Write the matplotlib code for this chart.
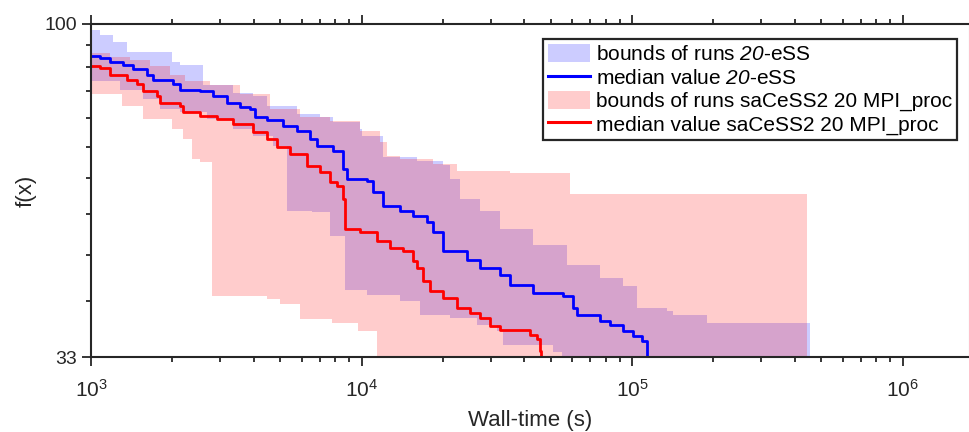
import numpy as np
import matplotlib
matplotlib.use("Agg")
import matplotlib.pyplot as plt
from matplotlib.ticker import FixedLocator, FixedFormatter, NullFormatter

plt.rcParams['font.family'] = ['Liberation Sans', 'DejaVu Sans']
plt.rcParams['mathtext.fontset'] = 'custom'
plt.rcParams['mathtext.rm'] = 'Liberation Sans'
plt.rcParams['mathtext.it'] = 'Liberation Sans:italic'
# slanted digits in the legend labels are set through the sans-serif math font
plt.rcParams['mathtext.sf'] = 'Liberation Sans:italic'

# value used for runs that went below the plotted range
F_FLOOR = 30.0

# ---- 20-eSS: bounds of runs (worst / best) and median, step functions (t [s], f) ----
ESS_UP_T = [1000, 1080, 1206, 1359, 1993, 2133, 2594, 3350, 3971, 4474, 5775, 7026, 7846,
            9874, 10043, 12008, 16040, 20010, 21245, 23128, 27420, 32510, 43050, 57500,
            76150, 92630, 104350, 134700, 141800, 189400]
ESS_UP_F = [98.0, 96.4, 94.2, 91.2, 88.2, 87.3, 81.5, 79.6, 78.6, 76.0, 74.0, 73.3, 72.1,
            70.5, 68.9, 64.2, 63.4, 62.5, 59.7, 55.9, 53.6, 50.6, 47.9, 44.8,
            42.9, 41.8, 38.9, 38.5, 37.9, 37.0]
ESS_LO_T = [1000, 1280, 1557, 1799, 2133, 2685, 3350, 3971, 4708, 5303, 6563, 7648, 8690,
            10478, 13880, 16455, 21245, 26730, 31690, 33350, 51050, 55000]
ESS_LO_F = [82.6, 80.4, 77.8, 75.3, 74.5, 72.8, 70.5, 68.9, 66.6, 53.6, 53.4, 49.4, 41.3,
            40.6, 39.8, 38.0, 37.6, 36.7, 36.0, 34.3, 33.5, F_FLOOR]
ESS_END = 455000

ESS_MED_T = [1000, 1080, 1175, 1313, 1430, 1611, 1695, 2010, 2133, 2529, 2825, 3183, 3554,
             3871, 4040, 4474, 5126, 5775, 6452, 6849, 7846, 8543, 8840, 10478, 11027, 12008,
             13880, 15500, 17465, 18382, 20010, 24547, 27420, 32510, 35400, 43050, 55570,
             60520, 62620, 76150, 82950, 92630, 100850, 108900, 113630]
ESS_MED_F = [89.9, 89.4, 88.2, 87.3, 86.2, 84.5, 83.1, 81.8, 80.4, 79.9, 78.6, 77.0, 75.8,
             75.3, 73.3, 72.6, 71.1, 70.0, 68.2, 66.6, 65.5, 61.7, 59.7, 59.3, 57.2, 54.6,
             53.7, 52.8, 51.8, 50.1, 46.9, 45.6, 44.4, 43.4, 42.0, 40.8, 40.4,
             38.9, 38.0, 37.2, 36.7, 36.0, 35.4, 34.8, F_FLOOR]

# ---- saCeSS2 with 20 MPI processes ----
CESS_UP_T = [1000, 1175, 1394, 1652, 1959, 2226, 2754, 3554, 4589, 5924, 7648, 9874, 11705,
             12425, 13880, 18382, 22544, 35400, 58990]
CESS_UP_F = [90.9, 89.7, 88.8, 87.0, 84.5, 82.6, 81.5, 79.1, 75.3, 73.3, 72.3, 70.0, 67.5,
             64.4, 63.8, 62.7, 61.3, 60.9, 56.8]
CESS_LO_T = [1000, 1302, 1557, 1993, 2188, 2362, 2529, 2802, 4474, 4997, 5924, 7780, 9707, 11410]
CESS_LO_F = [79.1, 76.0, 72.8, 70.5, 68.2, 63.8, 63.2, 40.4, 40.0, 39.4, 37.5, 37.0, 36.0, F_FLOOR]
CESS_END = 443600

CESS_MED_T = [1000, 1080, 1175, 1359, 1480, 1557, 1754, 1799, 2133, 2188, 2529, 2923, 3350,
              3971, 4474, 4871, 5441, 6289, 7026, 7648, 8118, 8543, 8690, 9874, 11410, 12746,
              14240, 15500, 16040, 16880, 17918, 20010, 22544, 25180, 27420, 29850, 32510,
              41980, 44550, 45700, 46090]
CESS_MED_F = [87.0, 86.5, 84.5, 83.1, 81.8, 79.9, 78.6, 77.0, 76.0, 74.5, 73.6, 72.8, 71.6,
              69.8, 68.2, 66.4, 64.9, 62.3, 61.1, 59.1, 58.3, 55.9, 50.6, 50.1, 48.5, 47.4,
              46.9, 45.4, 44.4, 42.5, 41.1, 40.2, 38.9, 38.2, 37.6, 36.6, 36.1,
              35.5, 35.0, 33.7, F_FLOOR]

LABELS = ['bounds of runs $\\mathsf{20}$-eSS', 'median value $\\mathsf{20}$-eSS',
          'bounds of runs saCeSS2 20 MPI_proc', 'median value saCeSS2 20 MPI_proc']
X_LIM = (1e3, 1.76e6)
Y_LIM = (33, 100)
Y_TICKS = np.linspace(33, 100, 11)
AX_COLOR = '#262626'


def staircase(t_src, f_src, grid):
    """Value of a right-continuous step function at the grid times."""
    idx = np.searchsorted(np.asarray(t_src), grid, side='right') - 1
    return np.asarray(f_src)[np.clip(idx, 0, None)]


def band(ax, up_t, up_f, lo_t, lo_f, t_end, color, label):
    grid = np.union1d(np.union1d(up_t, lo_t), [t_end])
    hi = staircase(up_t, up_f, grid)
    lo = staircase(lo_t, lo_f, grid)
    return ax.fill_between(grid, lo, hi, step='post', facecolor=color, alpha=0.2,
                           linewidth=0, label=label)


fig = plt.figure(figsize=(9.7, 4.32), dpi=100)
ax = fig.add_axes([91 / 970, 1 - 357 / 432, 878 / 970, 333 / 432])

band(ax, ESS_UP_T, ESS_UP_F, ESS_LO_T, ESS_LO_F, ESS_END, (0, 0, 1), LABELS[0])
ax.plot(ESS_MED_T, ESS_MED_F, drawstyle='steps-post', color=(0, 0, 1), lw=2.0, label=LABELS[1])
band(ax, CESS_UP_T, CESS_UP_F, CESS_LO_T, CESS_LO_F, CESS_END, (1, 0, 0), LABELS[2])
ax.plot(CESS_MED_T, CESS_MED_F, drawstyle='steps-post', color=(1, 0, 0), lw=2.0, label=LABELS[3])

ax.set_xscale('log')
ax.set_yscale('log')
ax.set_xlim(*X_LIM)
ax.set_ylim(*Y_LIM)

ax.yaxis.set_major_locator(FixedLocator([Y_TICKS[0], Y_TICKS[-1]]))
ax.yaxis.set_major_formatter(FixedFormatter(['33', '100']))
ax.yaxis.set_minor_locator(FixedLocator(Y_TICKS[1:-1]))
ax.yaxis.set_minor_formatter(NullFormatter())

for side in ('left', 'bottom', 'top'):
    ax.spines[side].set_color(AX_COLOR)
    ax.spines[side].set_linewidth(1.5)
ax.spines['right'].set_color('#bdbdbd')
ax.spines['right'].set_linewidth(0.8)

ax.tick_params(which='both', direction='out', top=True, right=False,
               color=AX_COLOR, labelcolor=AX_COLOR, width=1.3, labelsize=14)
ax.tick_params(which='major', length=6.5)
ax.tick_params(which='minor', length=3.8)
ax.tick_params(axis='x', which='major', pad=9, labelsize=15)

ax.set_xlabel('Wall-time (s)', fontsize=16, color=AX_COLOR, labelpad=7)
ax.set_ylabel('f(x)', fontsize=16, color=AX_COLOR, labelpad=6)

leg = ax.legend(loc='upper right', bbox_to_anchor=((957 - 91) / 878, (357 - 39) / 333),
                borderaxespad=0, fontsize=15, frameon=True, fancybox=False,
                edgecolor=AX_COLOR, framealpha=1, handlelength=2.05, handleheight=0.95,
                handletextpad=0.25, labelspacing=0.15, borderpad=0.25)
leg.get_frame().set_linewidth(1.6)
for h in leg.legend_handles[1::2]:
    h.set_linewidth(2.2)

fig.savefig('out.png', dpi=100, facecolor='white')
